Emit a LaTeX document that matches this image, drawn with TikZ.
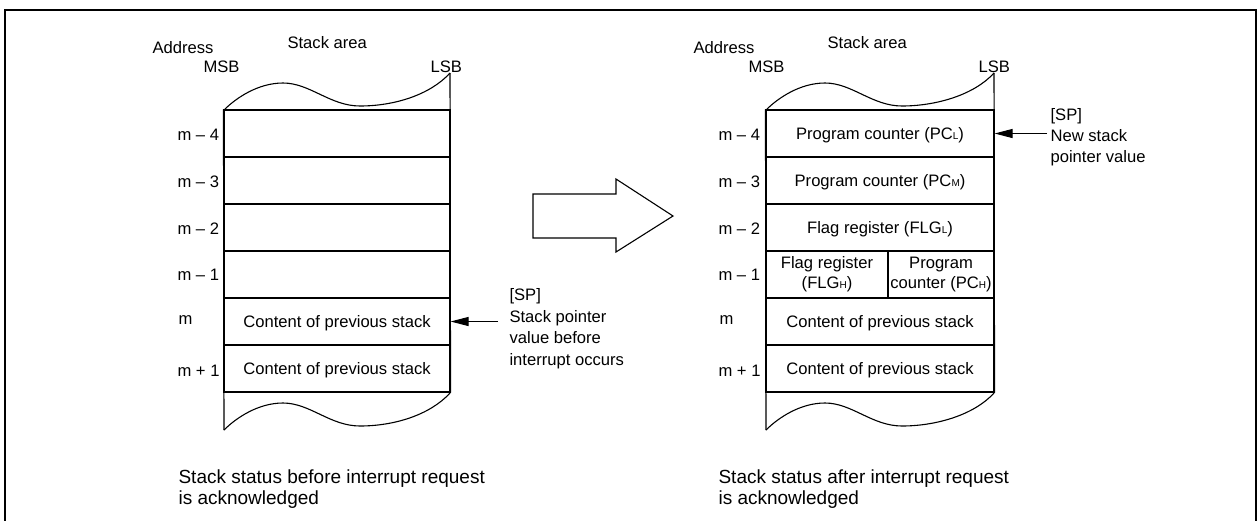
\documentclass[tikz,border=0pt]{standalone}
\usepackage{fontspec}
\setmainfont{Liberation Sans}
\usetikzlibrary{arrows.meta}
\newcommand\smallsub[1]{{\fontsize{10}{12}\selectfont #1}}
\newcommand\mywave[3]{%
  \draw (#1,#3) .. controls (#1+12,#3-12) and (#1+34,#3-27) .. (#1+59,#3-27)
    .. controls (#1+86,#3-27) and (#1+106,#3-4) .. (#1+136,#3-4)
    .. controls (#1+170,#3-4) and (#2-20,#3-15) .. (#2,#3-37);}
\begin{document}
\begin{tikzpicture}[x=1pt,y=-1pt,line width=1.1pt,
  font=\fontsize{16.6}{21}\selectfont,
  cellbase/.style={draw, inner sep=0pt, minimum height=47pt},
  cell/.style={cellbase, text height=12pt, text depth=0pt},
  lbl/.style={anchor=base west, inner sep=0pt},
  note/.style={anchor=north west, inner sep=0pt, align=left},
  ptr/.style={-{Triangle[length=18pt,width=9pt]}, line width=1.1pt}]
\useasboundingbox (0,0) rectangle (1257,520);
% frame
\draw[line width=2pt] (5,540) -- (5,10) -- (1256,10) -- (1256,540);

% ---------- left stack ----------
\node[lbl] (la) at (152,53) {Address};
\node[lbl] (lsa) at (287,48) {Stack area};
\node[lbl] (lmsb) at (203,72) {MSB};
\node[lbl] (llsb) at (430,72) {LSB};
\node[cell, minimum width=226pt] (l4) at (337,133.5) {};
\node[cell, minimum width=226pt] (l3) at (337,180.5) {};
\node[cell, minimum width=226pt] (l2) at (337,227.5) {};
\node[cell, minimum width=226pt] (l1) at (337,274.5) {};
\node[cell, minimum width=226pt] (l0) at (337,321.5) {Content of previous stack};
\node[cell, minimum width=226pt] (lp) at (337,368.5) {Content of previous stack};
\draw (l4.north west) -- (224,430);
\draw (lp.south east) -- (450,73);
\mywave{224}{450}{110}
\mywave{224}{450}{430}
\node[lbl] (la4) at (177,140) {m -- 4};
\node[lbl] (la3) at (177,187) {m -- 3};
\node[lbl] (la2) at (177,234) {m -- 2};
\node[lbl] (la1) at (177,280) {m -- 1};
\node[lbl] (la0) at (178,324) {m};
\node[lbl] (lap) at (177,376) {m + 1};
\coordinate (lsp) at (498,321.5);
\draw[ptr] (lsp) -- (l0.east);
\node[note, font=\fontsize{16.6}{21.5}\selectfont] (lspt) at (509,288) {[SP]\\Stack pointer\\value before\\interrupt occurs};
\node[note, font=\fontsize{19}{21}\selectfont] (lcap) at (178,469) {Stack status before interrupt request\\is acknowledged};

% ---------- big arrow ----------
\draw (533,194) -- (616,194) -- (616,179) -- (673,216) -- (616,252) -- (616,238) -- (533,238) -- cycle;

% ---------- right stack ----------
\node[lbl] (ra) at (693,53) {Address};
\node[lbl] (rsa) at (827,48) {Stack area};
\node[lbl] (rmsb) at (748,72) {MSB};
\node[lbl] (rlsb) at (978,72) {LSB};
\node[cell, minimum width=228pt] (r4) at (880,133.5) {Program counter (PC\smallsub{L})};
\node[cell, minimum width=228pt] (r3) at (880,180.5) {Program counter (PC\smallsub{M})};
\node[cell, minimum width=228pt] (r2) at (880,227.5) {Flag register (FLG\smallsub{L})};
\node[cellbase, minimum width=122pt, align=center, font=\fontsize{16.6}{20}\selectfont] (r1a) at (827,274.5) {Flag register\\(FLG\smallsub{H})};
\node[cellbase, minimum width=106pt, align=center, font=\fontsize{16.6}{20}\selectfont] (r1b) at (941,274.5) {Program\\counter (PC\smallsub{H})};
\node[cell, minimum width=228pt] (r0) at (880,321.5) {Content of previous stack};
\node[cell, minimum width=228pt] (rp) at (880,368.5) {Content of previous stack};
\draw (r4.north west) -- (766,430);
\draw (rp.south east) -- (994,73);
\mywave{766}{994}{110}
\mywave{766}{994}{430}
\node[lbl] (ra4) at (718,140) {m -- 4};
\node[lbl] (ra3) at (718,187) {m -- 3};
\node[lbl] (ra2) at (718,234) {m -- 2};
\node[lbl] (ra1) at (718,280) {m -- 1};
\node[lbl] (ra0) at (719,324) {m};
\node[lbl] (rap) at (718,376) {m + 1};
\coordinate (rsp) at (1047,133.5);
\draw[ptr] (rsp) -- (r4.east);
\node[note, font=\fontsize{16.6}{21}\selectfont] (rspt) at (1050,108) {[SP]\\New stack\\pointer value};
\node[note, font=\fontsize{19}{21}\selectfont] (rcap) at (718,469) {Stack status after interrupt request\\is acknowledged};
\end{tikzpicture}
\end{document}
